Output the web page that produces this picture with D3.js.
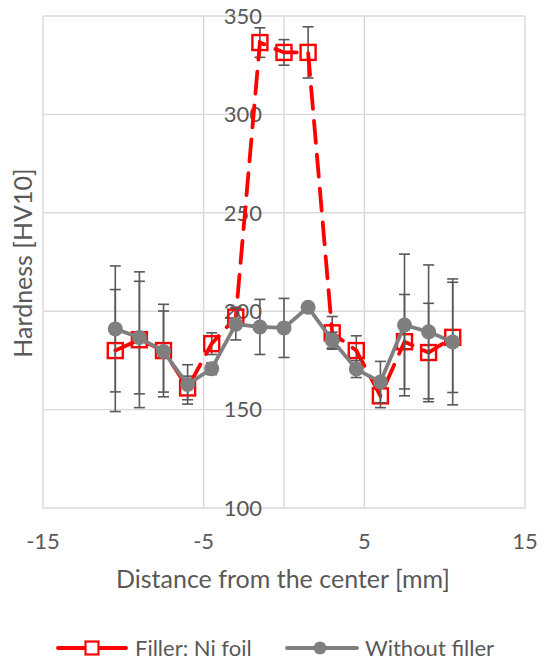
<!DOCTYPE html>
<html>
<head>
<meta charset="utf-8">
<script src="https://cdn.jsdelivr.net/npm/d3@7"></script>
<style>
  body { margin: 0; background: #fff; }
  svg text { font-family: Lato, "Liberation Sans", sans-serif; fill: #595959; }
</style>
</head>
<body>
<div id="chart"></div>
<script>
// distance from center [mm]
var distances = [-10.5, -9, -7.5, -6, -4.5, -3, -1.5, 0, 1.5, 3, 4.5, 6, 7.5, 9, 10.5];
// Filler: Ni foil
var niFoil = [180, 185.5, 180, 161, 183.5, 197, 336.5, 331.5, 331.5, 189, 180, 157, 184.5, 179, 186.7];
var niFoilErr = [31, 34.5, 23.5, 6, 5.5, 5, 7.5, 6.5, 13, 8.3, 7.5, 6, 24, 25, 28];
// Without filler
var noFiller = [191, 186.6, 179.5, 162.8, 170.8, 193.4, 192, 191.5, 202, 185.3, 170.6, 164, 193, 189.5, 184.4];
var noFillerErr = [32, 28.6, 20.6, 10, 3, 8, 14, 15, 2, 4, 4.3, 10.5, 36, 34, 32];
var xTicks = [-15, -5, 5, 15];
var yTicks = [100, 150, 200, 250, 300, 350];

var WIDTH = 549, HEIGHT = 662;
var RED = '#ff0000', GRAY = '#7f7f7f', ERR = '#595959', GRID = '#d9d9d9';
var TICK_SIZE = 22;
var TITLE_SIZE = 25;
var LEGEND_SIZE = 22;

var svg = d3.select('#chart').append('svg')
    .attr('width', WIDTH)
    .attr('height', HEIGHT);

var x = d3.scaleLinear().domain([-15, 15]).range([43, 525]);
var y = d3.scaleLinear().domain([100, 350]).range([508, 16]);

/** gridlines */
svg.append('g').selectAll('line').data(yTicks).enter().append('line')
    .attr('x1', x(-15)).attr('x2', x(15))
    .attr('y1', function (d) { return y(d); }).attr('y2', function (d) { return y(d); })
    .attr('stroke', GRID).attr('stroke-width', 1.4);
svg.append('g').selectAll('line').data(xTicks.concat([0])).enter().append('line')
    .attr('x1', function (d) { return x(d); }).attr('x2', function (d) { return x(d); })
    .attr('y1', y(100)).attr('y2', y(350))
    .attr('stroke', GRID).attr('stroke-width', 1.4);

/** tick labels: y labels sit next to the value axis at x = 0 */
svg.append('g').selectAll('text').data(yTicks).enter().append('text')
    .attr('x', x(0) - 22)
    .attr('y', function (d) { return y(d); })
    .attr('dy', '0.35em')
    .attr('text-anchor', 'end')
    .attr('font-size', TICK_SIZE)
    .text(function (d) { return d; });
svg.append('g').selectAll('text').data(xTicks).enter().append('text')
    .attr('x', function (d) { return x(d); })
    .attr('y', 541)
    .attr('dy', '0.35em')
    .attr('text-anchor', 'middle')
    .attr('font-size', TICK_SIZE)
    .text(function (d) { return d; });

/** axis titles */
svg.append('text')
    .attr('x', 283)
    .attr('y', 579)
    .attr('dy', '0.35em')
    .attr('text-anchor', 'middle')
    .attr('font-size', TITLE_SIZE)
    .text('Distance from the center [mm]');
svg.append('text')
    .attr('transform', 'translate(23,263) rotate(-90)')
    .attr('dy', '0.35em')
    .attr('text-anchor', 'middle')
    .attr('font-size', TITLE_SIZE)
    .text('Hardness [HV10]');

function drawErrorBars(vals, errs) {
    var g = svg.append('g').attr('stroke', ERR).attr('stroke-width', 1.6);
    var pts = distances.map(function (d, i) { return { x: d, v: vals[i], e: errs[i] }; });
    g.selectAll('.bar').data(pts).enter().append('line')
        .attr('x1', function (d) { return x(d.x); }).attr('x2', function (d) { return x(d.x); })
        .attr('y1', function (d) { return y(d.v + d.e); })
        .attr('y2', function (d) { return y(d.v - d.e); });
    [1, -1].forEach(function (s) {
        g.selectAll('.cap').data(pts).enter().append('line')
            .attr('x1', function (d) { return x(d.x) - 5.5; })
            .attr('x2', function (d) { return x(d.x) + 5.5; })
            .attr('y1', function (d) { return y(d.v + s * d.e); })
            .attr('y2', function (d) { return y(d.v + s * d.e); });
    });
}

var line = d3.line()
    .x(function (d) { return x(d[0]); })
    .y(function (d) { return y(d[1]); });

/** Filler: Ni foil */
drawErrorBars(niFoil, niFoilErr);
var redPts = distances.map(function (d, i) { return [d, niFoil[i]]; });
svg.append('path')
    .attr('d', line(redPts))
    .attr('fill', 'none')
    .attr('stroke', RED)
    .attr('stroke-width', 3.8)
    .attr('stroke-dasharray', '22,12')
    .attr('stroke-linecap', 'round');
svg.append('g').selectAll('rect').data(redPts).enter().append('rect')
    .attr('x', function (d) { return x(d[0]) - 7.5; })
    .attr('y', function (d) { return y(d[1]) - 7.5; })
    .attr('width', 15).attr('height', 15)
    .attr('fill', 'none')
    .attr('stroke', RED)
    .attr('stroke-width', 2.4);

/** Without filler */
drawErrorBars(noFiller, noFillerErr);
var grayPts = distances.map(function (d, i) { return [d, noFiller[i]]; });
svg.append('path')
    .attr('d', line(grayPts))
    .attr('fill', 'none')
    .attr('stroke', GRAY)
    .attr('stroke-width', 3.8)
    .attr('stroke-linejoin', 'round');
svg.append('g').selectAll('circle').data(grayPts).enter().append('circle')
    .attr('cx', function (d) { return x(d[0]); })
    .attr('cy', function (d) { return y(d[1]); })
    .attr('r', 7.5)
    .attr('fill', GRAY);

/** legend */
var LEGEND_Y = 648;
var legend = svg.append('g');
legend.append('line')
    .attr('x1', 58).attr('x2', 126).attr('y1', LEGEND_Y).attr('y2', LEGEND_Y)
    .attr('stroke', RED).attr('stroke-width', 3.8).attr('stroke-linecap', 'round');
legend.append('rect')
    .attr('x', 92 - 6.5).attr('y', LEGEND_Y - 6.5).attr('width', 13).attr('height', 13)
    .attr('fill', '#fff').attr('stroke', RED).attr('stroke-width', 2.2);
legend.append('text')
    .attr('x', 135).attr('y', LEGEND_Y).attr('dy', '0.35em')
    .attr('font-size', LEGEND_SIZE)
    .text('Filler: Ni foil');
legend.append('line')
    .attr('x1', 287).attr('x2', 357).attr('y1', LEGEND_Y).attr('y2', LEGEND_Y)
    .attr('stroke', GRAY).attr('stroke-width', 3.8).attr('stroke-linecap', 'round');
legend.append('circle')
    .attr('cx', 320).attr('cy', LEGEND_Y).attr('r', 6.5).attr('fill', GRAY);
legend.append('text')
    .attr('x', 365).attr('y', LEGEND_Y).attr('dy', '0.35em')
    .attr('font-size', LEGEND_SIZE)
    .text('Without filler');
</script>
</body>
</html>
